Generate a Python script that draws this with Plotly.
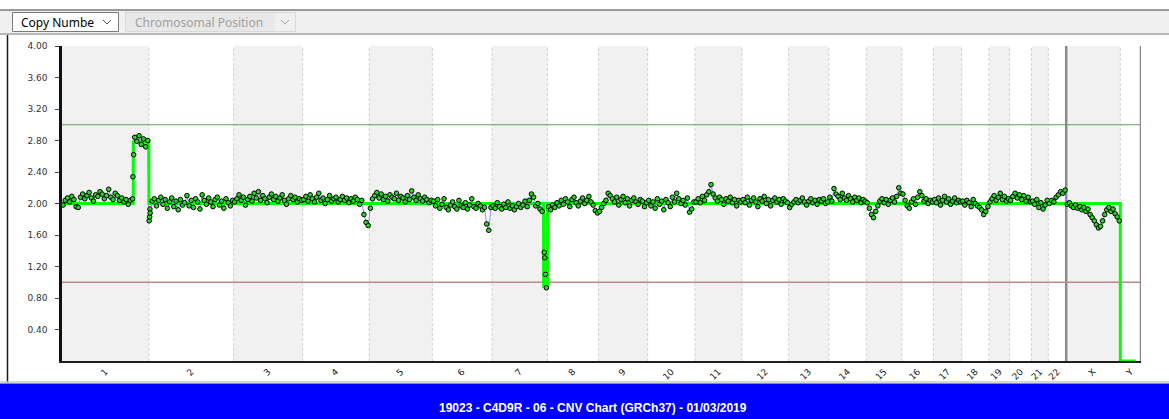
import plotly.graph_objects as go

# ---------------------------------------------------------------- data
CHROMS = ["1", "2", "3", "4", "5", "6", "7", "8", "9", "10", "11", "12",
          "13", "14", "15", "16", "17", "18", "19", "20", "21", "22", "X", "Y"]
# GRCh37 chromosome lengths (Mb)
CHROM_LEN_MB = [249.25, 243.20, 198.02, 191.15, 180.92, 171.12, 159.14, 146.36,
                141.21, 135.53, 135.01, 133.85, 115.17, 107.35, 102.53, 90.35,
                81.20, 78.08, 59.13, 63.03, 48.13, 51.30, 155.27, 59.37]

# probe copy-number calls, p-ter to q-ter, evenly spread along each chromosome
CN_1 = [1.98, 2.04, 2.07, 2.02, 2.09, 2.05, 1.96, 1.95, 2.08, 2.12, 2.06, 2.10,
        2.14, 2.07, 2.03, 2.11, 2.09, 2.15, 2.12, 2.06, 2.10, 2.18, 2.08, 2.05,
        2.13, 2.10, 2.04, 2.07, 2.02, 2.05, 1.99, 2.04, 2.06,
        2.84, 2.79, 2.86, 2.75, 2.82, 2.72, 2.80]
CN_2 = [1.93, 2.03, 2.06, 1.97, 2.04, 2.08, 1.99, 2.05, 1.94, 2.02, 2.07, 1.96,
        2.03, 1.92, 2.05, 1.98, 2.01, 2.10, 1.97, 2.04, 1.95, 2.06, 2.02, 1.93,
        2.11, 2.04, 1.99, 2.07, 2.02, 1.96, 2.05, 2.08, 1.98, 2.03, 1.94, 2.06,
        2.01, 1.97, 2.04]
CN_3 = [2.02, 2.06, 2.11, 2.04, 2.08, 1.98, 2.05, 2.09, 2.03, 2.13, 2.07, 2.15,
        2.04, 2.10, 2.06, 2.01, 2.08, 2.12, 2.05, 2.09, 2.03, 2.07, 2.11, 2.04,
        1.99, 2.06, 2.10, 2.05, 2.08, 2.02, 2.06, 2.04]
CN_4 = [2.05, 2.09, 2.03, 2.11, 2.06, 2.02, 2.08, 2.13, 2.04, 2.07, 2.00, 2.05,
        2.10, 2.03, 2.06, 2.08, 2.02, 2.05, 2.09, 2.04, 2.07, 2.01, 2.06, 2.03,
        2.08, 2.05, 1.99, 2.04, 1.86, 1.76, 1.72]
CN_5 = [1.94, 2.06, 2.10, 2.14, 2.07, 2.12, 2.05, 2.09, 2.03, 2.11, 2.08, 2.06,
        2.13, 2.04, 2.09, 2.07, 2.02, 2.10, 2.05, 2.16, 2.08, 2.04, 2.11, 2.06,
        2.03, 2.08, 2.05, 2.01, 2.04]
CN_6 = [2.03, 1.97, 2.05, 1.94, 1.99, 2.06, 1.95, 1.92, 1.98, 2.02, 1.96, 1.93,
        2.04, 1.97, 1.95, 2.01, 1.93, 1.98, 2.06, 1.96, 1.94, 2.00, 1.97, 1.92,
        1.95, 1.74, 1.66, 1.95]
CN_7 = [1.97, 1.94, 2.01, 1.96, 1.93, 1.99, 1.95, 2.02, 1.94, 1.97, 1.92, 1.96,
        2.00, 1.95, 1.98, 2.03, 1.96, 2.04, 2.12, 2.08, 1.97, 2.00, 1.93, 1.90,
        1.38, 0.93]
CN_8 = [1.96, 1.92, 1.98, 1.95, 2.01, 1.97, 2.04, 1.99, 2.06, 2.02, 1.96, 2.05,
        2.08, 2.01, 1.97, 2.03, 2.07, 2.00, 2.04, 2.09, 2.02, 1.98, 1.91, 1.88]
CN_9 = [1.90, 1.95, 2.00, 2.04, 2.13, 2.10, 2.06, 2.02, 2.08, 1.98, 2.05, 2.09,
        2.01, 2.06, 1.97, 2.04, 2.07, 2.02, 1.99, 2.05, 2.03, 1.96, 2.01]
CN_10 = [2.04, 1.97, 2.02, 1.94, 2.06, 1.99, 2.03, 1.92, 2.05, 2.01, 1.96, 2.08,
         2.02, 2.13, 2.06, 2.00, 2.04, 1.98, 2.07, 1.89, 1.93, 2.02]
CN_11 = [2.02, 2.06, 2.01, 2.09, 2.04, 2.11, 2.15, 2.24, 2.12, 2.07, 2.03, 2.08,
         2.05, 1.99, 2.06, 2.03, 2.08, 2.01, 2.05, 1.97, 2.04, 2.02]
CN_12 = [2.05, 2.01, 2.08, 1.98, 2.04, 2.07, 2.02, 1.96, 2.06, 2.03, 2.09, 2.00,
         2.05, 1.97, 2.04, 2.07, 2.02, 2.05, 1.99, 2.06, 2.03, 2.01]
CN_13 = [1.95, 1.99, 2.02, 2.05, 2.01, 2.04, 2.07, 2.02, 1.98, 2.03, 2.06, 2.01,
         2.04, 1.99, 2.05, 2.03, 2.06, 2.00, 2.02]
CN_14 = [2.08, 2.03, 2.19, 2.12, 2.09, 2.05, 2.13, 2.07, 2.04, 2.10, 2.06, 2.02,
         2.08, 2.04, 2.07, 2.01, 2.05, 2.03]
CN_15 = [2.01, 1.94, 1.86, 1.82, 1.90, 1.97, 2.03, 2.06, 2.01, 2.05, 1.99, 2.04,
         2.07, 2.02, 2.09, 2.20, 2.13]
CN_16 = [2.12, 2.04, 1.97, 1.94, 2.02, 2.06, 1.99, 2.08, 2.15, 2.10, 2.03, 2.06,
         2.00, 2.04, 2.02]
CN_17 = [2.05, 2.01, 2.07, 1.98, 2.04, 2.09, 2.02, 2.06, 1.99, 2.03, 2.07, 2.01,
         2.04, 2.02]
CN_18 = [2.03, 1.98, 2.04, 2.01, 1.96, 2.05, 2.00, 1.97, 1.95, 1.92, 1.86, 1.90,
         1.96]
CN_19 = [2.02, 2.06, 2.10, 2.04, 2.08, 2.13, 2.05, 2.09, 2.03, 2.06]
CN_20 = [2.04, 2.09, 2.13, 2.07, 2.11, 2.05, 2.10, 2.03, 2.08, 2.02]
CN_21 = [2.03, 1.99, 2.05, 1.95, 2.01, 1.93, 1.98, 2.04]
CN_22 = [2.00, 2.04, 2.02, 2.08, 2.11, 2.15, 2.13, 2.17]
CN_X = [1.99, 2.01, 1.97, 1.95, 1.98, 1.94, 1.96, 1.92, 1.95, 1.90, 1.93, 1.86,
        1.82, 1.78, 1.73, 1.69, 1.71, 1.78, 1.86, 1.92, 1.95, 1.90, 1.93, 1.87,
        1.83, 1.78]
CN_Y = []

PROBES = {"1": CN_1, "2": CN_2, "3": CN_3, "4": CN_4, "5": CN_5, "6": CN_6,
          "7": CN_7, "8": CN_8, "9": CN_9, "10": CN_10, "11": CN_11,
          "12": CN_12, "13": CN_13, "14": CN_14, "15": CN_15, "16": CN_16,
          "17": CN_17, "18": CN_18, "19": CN_19, "20": CN_20, "21": CN_21,
          "22": CN_22, "X": CN_X, "Y": CN_Y}

# extra probes sitting on breakpoints
FOCAL_CHROM = ["1", "1", "2", "2", "2", "7", "7", "Y", "Y"]
FOCAL_POS_MB = [203.5, 205.5, 0.8, 2.2, 3.6, 151.5, 153.5, 0.3, 0.8]
FOCAL_CN = [2.34, 2.62, 1.78, 1.83, 1.88, 1.31, 1.10, 1.48, 0.47]

# segmented copy number
SEG_CHROM = ["1", "1", "2", "3", "4", "5", "6", "7", "7", "8", "9", "10", "11",
             "12", "13", "14", "15", "16", "17", "18", "19", "20", "21", "22",
             "X", "Y"]
SEG_START_MB = [0, 204.5, 0, 0, 0, 0, 0, 0, 148.0, 0, 0, 0, 0, 0, 0, 0, 0, 0,
                0, 0, 0, 0, 0, 0, 0, 0]
SEG_END_MB = [204.5, 249.25, 243.20, 198.02, 191.15, 180.92, 171.12, 148.0,
              159.14, 146.36, 141.21, 135.53, 135.01, 133.85, 115.17, 107.35,
              102.53, 90.35, 81.20, 78.08, 59.13, 63.03, 48.13, 51.30, 155.27,
              44.0]
SEG_CN = [2.00, 2.78, 2.00, 2.00, 2.00, 2.00, 2.00, 2.00, 0.95, 2.00, 2.00,
          2.00, 2.00, 2.00, 2.00, 2.00, 2.00, 2.00, 2.00, 2.00, 2.00, 2.00,
          2.00, 2.00, 2.00, 0.00]

GAIN_THRESHOLD = 3.0
LOSS_THRESHOLD = 1.0
Y_TICKS = [0.4, 0.8, 1.2, 1.6, 2.0, 2.4, 2.8, 3.2, 3.6, 4.0]
TITLE = "19023 - C4D9R - 06 - CNV Chart (GRCh37) - 01/03/2019"

# ---------------------------------------------------------------- genome coordinates
offset = {}
acc = 0.0
for c, ln in zip(CHROMS, CHROM_LEN_MB):
    offset[c] = acc
    acc += ln
GENOME_LEN = acc
length = dict(zip(CHROMS, CHROM_LEN_MB))

probe_pts = []
for c in CHROMS:
    vals = PROBES[c]
    n = len(vals)
    for i, v in enumerate(vals):
        probe_pts.append((offset[c] + (i + 0.5) * length[c] / n, v, c))
for c, p, v in zip(FOCAL_CHROM, FOCAL_POS_MB, FOCAL_CN):
    probe_pts.append((offset[c] + p, v, c))
probe_pts.sort(key=lambda t: t[0])

raw_x = [p[0] for p in probe_pts]
raw_y = [p[1] for p in probe_pts]
mk_x = [p[0] for p in probe_pts if p[2] != "Y"]
mk_y = [p[1] for p in probe_pts if p[2] != "Y"]

seg_x, seg_y = [], []
for c, s, e, v in zip(SEG_CHROM, SEG_START_MB, SEG_END_MB, SEG_CN):
    seg_x += [offset[c] + s, offset[c] + e]
    seg_y += [v, v]

# ---------------------------------------------------------------- page geometry
FIG_W, FIG_H = 1169, 419
M_L, M_R, M_T, M_B = 62, 28, 46, 58
PLOT_W = FIG_W - M_L - M_R
PLOT_H = FIG_H - M_T - M_B


def px_x(px):
    return (px - M_L) / PLOT_W


def px_y(py):
    return (FIG_H - M_B - py) / PLOT_H


fig = go.Figure()

fig.add_trace(go.Scatter(x=raw_x, y=raw_y, mode="lines",
                         line=dict(color="#8d8df0", width=1),
                         hoverinfo="skip", showlegend=False))
fig.add_trace(go.Scatter(x=seg_x, y=seg_y, mode="lines",
                         line=dict(color="#00ff00", width=3),
                         showlegend=False, name="Segment"))
fig.add_trace(go.Scatter(x=mk_x, y=mk_y, mode="markers",
                         marker=dict(size=4.6, color="#22d822",
                                     line=dict(color="#000000", width=1)),
                         showlegend=False, name="Copy Number"))

shapes = []
# alternating chromosome bands
for i, c in enumerate(CHROMS):
    if i % 2 == 0:
        shapes.append(dict(type="rect", xref="x", yref="y",
                           x0=offset[c], x1=offset[c] + length[c], y0=0, y1=4,
                           fillcolor="#f1f1f1", line=dict(width=0), layer="below"))
# chromosome boundaries
for c in CHROMS[1:]:
    if c == "X":
        shapes.append(dict(type="line", xref="x", yref="y", x0=offset[c], x1=offset[c],
                           y0=0, y1=4, line=dict(color="#8a8a8a", width=2.5),
                           layer="below"))
    else:
        shapes.append(dict(type="line", xref="x", yref="y", x0=offset[c], x1=offset[c],
                           y0=0, y1=4, line=dict(color="#d2d2d2", width=1, dash="3px,2px"),
                           layer="below"))
shapes.append(dict(type="line", xref="x", yref="y", x0=GENOME_LEN, x1=GENOME_LEN,
                   y0=0, y1=4, line=dict(color="#8a8a8a", width=2.5), layer="above"))
# gain / loss thresholds
shapes.append(dict(type="line", xref="x", yref="y", x0=0, x1=GENOME_LEN,
                   y0=GAIN_THRESHOLD, y1=GAIN_THRESHOLD,
                   line=dict(color="#5f9f5f", width=1.2), layer="below"))
shapes.append(dict(type="line", xref="x", yref="y", x0=0, x1=GENOME_LEN,
                   y0=LOSS_THRESHOLD, y1=LOSS_THRESHOLD,
                   line=dict(color="#c08585", width=1.5), layer="below"))

# window chrome: toolbar, frame, footer banner
shapes += [
    dict(type="rect", xref="paper", yref="paper", x0=px_x(0), x1=px_x(FIG_W),
         y0=px_y(34), y1=px_y(10), fillcolor="#f0f0f0", line=dict(width=0),
         layer="below"),
    dict(type="line", xref="paper", yref="paper", x0=px_x(0), x1=px_x(FIG_W),
         y0=px_y(10), y1=px_y(10), line=dict(color="#3c3c3c", width=1)),
    dict(type="line", xref="paper", yref="paper", x0=px_x(0), x1=px_x(FIG_W),
         y0=px_y(34), y1=px_y(34), line=dict(color="#b8b8b8", width=2)),
    dict(type="line", xref="paper", yref="paper", x0=px_x(7.5), x1=px_x(7.5),
         y0=px_y(35), y1=px_y(383), line=dict(color="#1a1a1a", width=1.5)),
    dict(type="rect", xref="paper", yref="paper", x0=px_x(12.5), x1=px_x(118.5),
         y0=px_y(31.5), y1=px_y(12.5), fillcolor="#ffffff",
         line=dict(color="#7a7a7a", width=1)),
    dict(type="rect", xref="paper", yref="paper", x0=px_x(125.5), x1=px_x(295.5),
         y0=px_y(31.5), y1=px_y(12.5), fillcolor="#f0f0f0",
         line=dict(color="#d9d9d9", width=1)),
    dict(type="rect", xref="paper", yref="paper", x0=px_x(126), x1=px_x(275),
         y0=px_y(31), y1=px_y(13), fillcolor="#e8e8e8", line=dict(width=0)),
    dict(type="path", xref="paper", yref="paper",
         path=f"M {px_x(103)},{px_y(20)} L {px_x(107)},{px_y(24)} L {px_x(111)},{px_y(20)}",
         line=dict(color="#555555", width=1)),
    dict(type="path", xref="paper", yref="paper",
         path=f"M {px_x(281)},{px_y(20)} L {px_x(285)},{px_y(24)} L {px_x(289)},{px_y(20)}",
         line=dict(color="#a8a8a8", width=1)),
    dict(type="line", xref="paper", yref="paper", x0=px_x(0), x1=px_x(FIG_W),
         y0=px_y(382), y1=px_y(382), line=dict(color="#c8c8c8", width=1.5)),
    dict(type="rect", xref="paper", yref="paper", x0=px_x(0), x1=px_x(FIG_W),
         y0=px_y(FIG_H), y1=px_y(383.5), fillcolor="#0000ff", line=dict(width=0)),
]

annotations = [
    dict(text="Copy Numbe", xref="paper", yref="paper", x=px_x(19), y=px_y(22),
         xanchor="left", yanchor="middle", showarrow=False,
         font=dict(family="Noto Sans", size=12, color="#000000")),
    dict(text="Chromosomal Position", xref="paper", yref="paper", x=px_x(133),
         y=px_y(22), xanchor="left", yanchor="middle", showarrow=False,
         font=dict(family="Noto Sans", size=12, color="#a0a0a0")),
    dict(text=f"<b>{TITLE}</b>", xref="paper", yref="paper", x=px_x(593),
         y=px_y(408), xanchor="center", yanchor="middle", showarrow=False,
         font=dict(family="Liberation Sans", size=12, color="#ffffff")),
]

tick_x = [offset[c] + length[c] / 2 for c in CHROMS]

fig.update_layout(
    width=FIG_W, height=FIG_H,
    margin=dict(l=M_L, r=M_R, t=M_T, b=M_B, pad=0),
    paper_bgcolor="#ffffff", plot_bgcolor="#ffffff",
    showlegend=False,
    shapes=shapes, annotations=annotations,
    xaxis=dict(range=[0, GENOME_LEN], showgrid=False, zeroline=False,
               showline=True, linecolor="#1e1e1e", linewidth=2,
               tickmode="array", tickvals=tick_x, ticktext=CHROMS,
               tickangle=-45, ticks="", layer="below traces",
               ticklabelstandoff=0,
               tickfont=dict(family="DejaVu Sans", size=9, color="#222222")),
    yaxis=dict(range=[0, 4], showgrid=False, zeroline=False,
               showline=True, linecolor="#111111", linewidth=2.5,
               tickmode="array", tickvals=Y_TICKS,
               ticktext=[f"{v:.2f}" for v in Y_TICKS],
               ticks="outside", ticklen=4, tickcolor="#444444", tickwidth=1,
               ticklabelstandoff=6, layer="below traces",
               tickfont=dict(family="DejaVu Sans", size=9, color="#333333")),
)

fig.write_html("out.html")
